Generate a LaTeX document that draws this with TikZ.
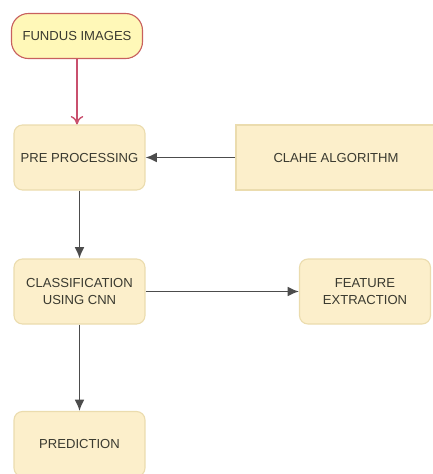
\documentclass[tikz,border=0pt]{standalone}
\usepackage{fontspec}
\setmainfont{Liberation Sans}
\usetikzlibrary{arrows.meta}

\definecolor{boxfill}{HTML}{FCEFCB}
\definecolor{boxline}{HTML}{EBDCAE}
\definecolor{startfill}{HTML}{FFF8B8}
\definecolor{startline}{HTML}{C8605E}
\definecolor{redarrow}{HTML}{C9506E}
\definecolor{textgray}{HTML}{3A3A30}

\begin{document}
\begin{tikzpicture}[>=latex]

% --- Global TikZ Styles ---
\tikzset{
    stepbox/.style={
        fill=boxfill,
        draw=boxline,
        line width=0.8pt,
        rounded corners=6pt,
        minimum width=3.275cm,
        minimum height=1.625cm,
        align=center,
        text=textgray,
        font=\fontsize{9.3}{11.5}\selectfont
    },
    startbox/.style={
        stepbox,
        fill=startfill,
        draw=startline,
        minimum height=1.125cm,
        rounded corners=12pt
    },
    sidebox/.style={
        stepbox,
        rounded corners=0pt,
        minimum width=5cm
    },
    arrow/.style={
        -{Latex[length=8pt,width=7pt]},
        line width=1.2pt,
        draw=black!70
    },
    redlink/.style={
        -{To[length=6pt,width=9pt]},
        line width=1pt,
        draw=redarrow
    }
}

\useasboundingbox (0,0) rectangle (10.825,-11.85);

% ==================================================
% --- Main column ---
% ==================================================

\node[startbox] (fundus) at (1.925,-0.9) {FUNDUS IMAGES};
\node[stepbox] (pre) at (1.9875,-3.9375) {PRE PROCESSING};
\node[stepbox] (cnn) at (1.9875,-7.2875) {CLASSIFICATION\\USING CNN};
\node[stepbox] (pred) at (1.9875,-11.1) {PREDICTION};

% ==================================================
% --- Side boxes ---
% ==================================================

\node[sidebox] (clahe) at (8.4,-3.9375) {CLAHE ALGORITHM};
\node[stepbox] (feat) at (9.125,-7.2875) {FEATURE\\EXTRACTION};

% ==================================================
% --- Connectors ---
% ==================================================

\draw[redlink] (fundus.south) -- (fundus.south |- pre.north);
\draw[arrow] (clahe.west) -- (pre.east);
\draw[arrow] (pre.south) -- (cnn.north);
\draw[arrow] (cnn.east) -- (feat.west);
\draw[arrow] (cnn.south) -- (pred.north);

\end{tikzpicture}
\end{document}
